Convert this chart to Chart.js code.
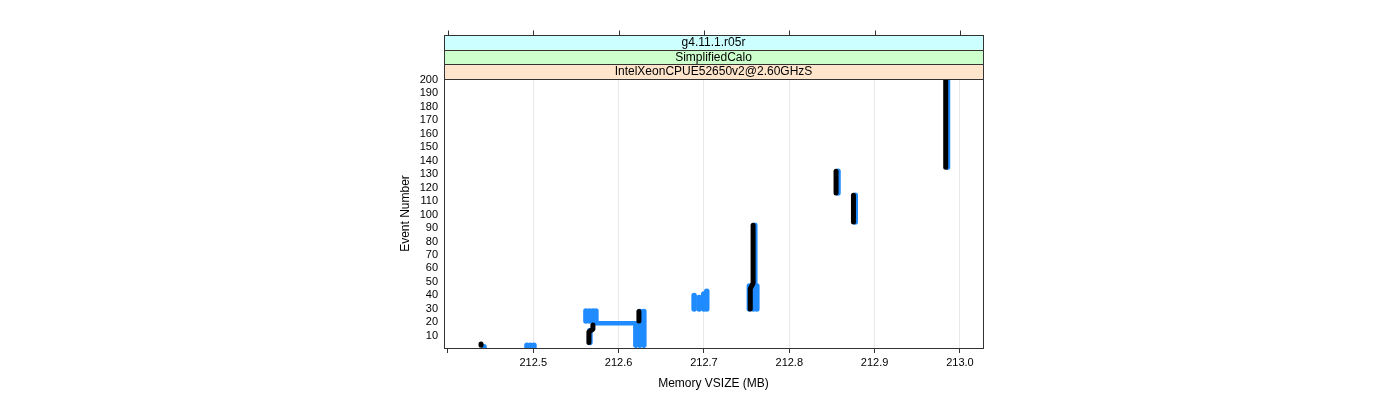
<!DOCTYPE html>
<html>
<head>
<meta charset="utf-8">
<script src="https://cdn.jsdelivr.net/npm/chart.js@4.4.1/dist/chart.umd.min.js"></script>
<style>
  html, body { margin: 0; background: #fff; }
  #wrap { width: 1400px; height: 400px; }
</style>
</head>
<body>
<div id="wrap"><canvas id="memChart"></canvas></div>
<script>
// x = Memory VSIZE (MB), y = event number
const xTickValues = [212.4, 212.5, 212.6, 212.7, 212.8, 212.9, 213.0];
const xTickLabels = ['', '212.5', '212.6', '212.7', '212.8', '212.9', '213.0'];
const yTickValues = [10, 20, 30, 40, 50, 60, 70, 80, 90, 100, 110, 120, 130, 140, 150, 160, 170, 180, 190, 200];

const stripLabels = ['g4.11.1.r05r', 'SimplifiedCalo', 'IntelXeonCPUE52650v2@2.60GHzS'];

// blue open circles: [vsize, first event, last event]
const blueColumns = [
  [212.4423, 1, 2],
  [212.4926, 1, 3],
  [212.4967, 1, 3],
  [212.5008, 1, 3],
  [212.5617, 21, 28.5],
  [212.5658, 21, 28.5],
  [212.5699, 21, 28.5],
  [212.5734, 21, 28.5],
  [212.5664, 5, 14],
  [212.6249, 20, 28],
  [212.6296, 20, 28],
  [212.6202, 3, 18],
  [212.6249, 3, 18],
  [212.6296, 3, 18],
  [212.6885, 30, 40],
  [212.6944, 30, 38.5],
  [212.6998, 30, 41],
  [212.7033, 30, 43],
  [212.7596, 49, 92],
  [212.7532, 30, 47],
  [212.7579, 30, 47],
  [212.7620, 30, 47],
  [212.8571, 116, 132],
  [212.8773, 94.5, 114.3],
  [212.9854, 135, 201]
];
// blue jump between two vsize values: [vsize0, event0, vsize1, event1]
const blueLinks = [
  [212.5722, 19.3, 212.6249, 19.3]
];
// black points, as paths of [vsize, event]
const blackPaths = [
  [[212.4388, 3], [212.4388, 4]],
  [[212.5652, 5], [212.5652, 13], [212.5699, 15], [212.5699, 18]],
  [[212.6238, 21], [212.6238, 28]],
  [[212.7543, 30], [212.7543, 45], [212.7576, 49], [212.7576, 92]],
  [[212.8548, 116], [212.8548, 132]],
  [[212.8752, 94.5], [212.8752, 114.3]],
  [[212.9833, 135], [212.9833, 201]]
];

const FONT = "'Liberation Sans', Arial, sans-serif";
const blueColor = '#1f8bff';
const frameColor = '#333333';
const stripColors = ['#ccffff', '#ccffcc', '#ffe5cc'];

function lineSet(points, color, width, order) {
  return {
    data: points.map(([x, y]) => ({ x, y })),
    borderColor: color,
    borderWidth: width,
    borderCapStyle: 'round',
    borderJoinStyle: 'round',
    pointRadius: 0,
    tension: 0,
    fill: false,
    clip: 0,
    order
  };
}

const datasets = [
  ...blackPaths.map(p => lineSet(p, '#000000', 5, 0)),
  ...blueColumns.map(([x, a, b]) => lineSet([[x, a], [x, b]], blueColor, 5.5, 1)),
  ...blueLinks.map(([x0, a, x1, b]) => lineSet([[x0, a], [x1, b]], blueColor, 4.5, 1))
];

// strips, panel box and top ticks, lattice style
const latticeFrame = {
  id: 'latticeFrame',
  afterDraw(chart) {
    const { ctx, chartArea: a, scales } = chart;
    const stripH = 44 / 3;
    ctx.save();
    ctx.lineWidth = 1;
    ctx.strokeStyle = frameColor;
    stripLabels.forEach((txt, i) => {
      const y0 = a.top - (3 - i) * stripH;
      ctx.fillStyle = stripColors[i];
      ctx.fillRect(a.left, y0, a.right - a.left, stripH);
      ctx.strokeRect(Math.round(a.left) + 0.5, Math.round(y0) + 0.5, Math.round(a.right - a.left), Math.round(stripH));
      ctx.fillStyle = '#000';
      ctx.font = '12px ' + FONT;
      ctx.textAlign = 'center';
      ctx.textBaseline = 'middle';
      ctx.fillText(txt, (a.left + a.right) / 2, y0 + stripH / 2 + 0.5);
    });
    ctx.strokeRect(Math.round(a.left) + 0.5, Math.round(a.top - 44) + 0.5,
      Math.round(a.right - a.left), Math.round(a.bottom - a.top + 44));
    const topY = Math.round(a.top - 44) + 0.5;
    xTickValues.forEach(v => {
      const px = Math.round(scales.x.getPixelForValue(v)) + 0.5;
      ctx.beginPath();
      ctx.moveTo(px, topY);
      ctx.lineTo(px, topY - 5);
      ctx.stroke();
    });
    ctx.restore();
  }
};

new Chart(document.getElementById('memChart'), {
  type: 'line',
  data: { datasets },
  options: {
    responsive: true,
    maintainAspectRatio: false,
    animation: false,
    layout: { padding: { left: 396, right: 417, top: 79, bottom: 0 } },
    plugins: { legend: { display: false }, tooltip: { enabled: false } },
    scales: {
      x: {
        type: 'linear',
        min: 212.3954,
        max: 213.027,
        afterBuildTicks: s => { s.ticks = xTickValues.map(v => ({ value: v })); },
        afterFit: s => { s.height = 52; },
        ticks: {
          autoSkip: false,
          maxRotation: 0,
          padding: 3,
          color: '#000',
          font: { family: FONT, size: 11 },
          callback: (v, i) => xTickLabels[i]
        },
        grid: {
          color: c => (c.tick && c.tick.value < 212.45 ? 'rgba(0,0,0,0)' : '#e8e8e8'),
          tickColor: frameColor,
          tickLength: 5
        },
        border: { display: false },
        title: {
          display: true,
          text: 'Memory VSIZE (MB)',
          color: '#000',
          font: { family: FONT, size: 12 },
          padding: { top: 0, bottom: 9 }
        }
      },
      y: {
        type: 'linear',
        min: 1,
        max: 200.5,
        afterBuildTicks: s => { s.ticks = yTickValues.map(v => ({ value: v })); },
        afterFit: s => { s.width = 48; },
        ticks: {
          autoSkip: false,
          padding: 6,
          color: '#000',
          font: { family: FONT, size: 11 }
        },
        grid: { display: false, drawTicks: false },
        border: { display: false },
        title: {
          display: true,
          text: 'Event Number',
          color: '#000',
          font: { family: FONT, size: 12 },
          padding: { top: 2, bottom: 0 }
        }
      }
    }
  },
  plugins: [latticeFrame]
});
</script>
</body>
</html>
